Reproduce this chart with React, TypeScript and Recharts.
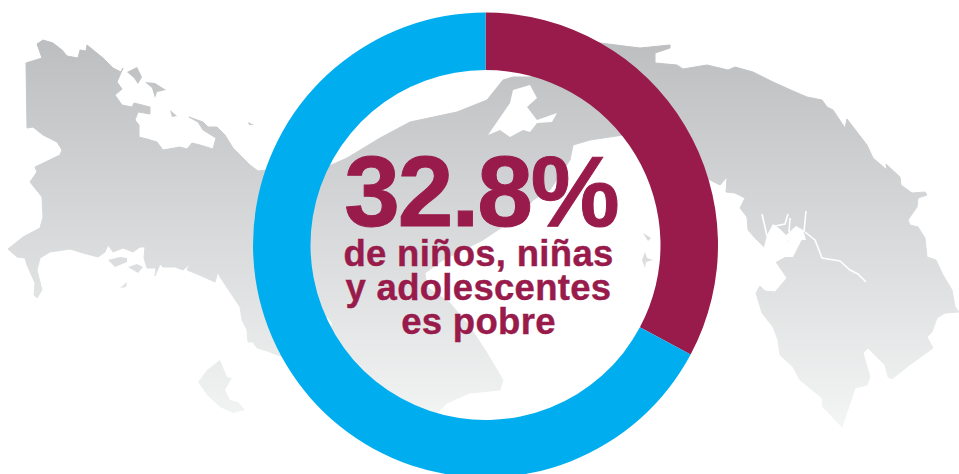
import React from "react";
import { PieChart, Pie, Cell } from "recharts";

const sliceNames = ["Pobre", "No pobre"];
const sliceValues = [32.8, 67.2];
const sliceColors = ["#981B4B", "#00AEEF"];

const headline = "32.8%";
const captionLines = ["de niños, niñas", "y adolescentes", "es pobre"];

const pieData = sliceNames.map((name, i) => ({ name, value: sliceValues[i] }));

// background map of Panama, traced by hand
const landPath =
  "M37 44 L43 40 L53 43 L62 50 L67 56 L78 58 L80 50 L86 51 L87 45 L103 58 L113 68 L121 72 L123 68 L117 82 L122 89 L115 95 L122 105 L132 107 L134 103 L150 107 L150 114 L138 112 L135 120 L139 125 L139 137 L147 139 L157 142 L163 150 L180 147 L187 149 L192 143 L200 145 L213 149 L216 138 L203 130 L198 122 L189 117 L203 122 L208 127 L217 127 L225 135 L233 148 L250 165 L258 171 L267 170 " +
  "L327 167 L347 158 L380 138 L410 122 L457 112 L487 100 L503 80 L513 77 L530 77 L570 50 L600 43 L640 48 L670 45 L670 48 L655 53 L655 63 L677 65 L683 69 L707 65 L728 70 L735 67 L753 72 L773 82 L793 91 L807 97 L822 100 L827 107 L833 110 L845 128 L847 119 L857 132 L867 145 L873 158 L887 170 L886 164 L900 177 L901 185 L912 193 L925 192 L927 195 L918 198 L917 207 L908 220 L910 225 L918 227 L925 238 L927 257 L936 260 L943 275 L952 290 L955 307 L959 312 " +
  "L945 313 L937 318 L932 332 L927 337 L933 348 L907 367 L892 379 L888 377 L885 365 L868 348 L863 353 L870 377 L867 385 L855 388 L842 427 L823 407 L822 398 L800 380 L793 367 L780 355 L778 340 L773 327 L762 313 L756 293 L760 286 L765 291 L775 292 L787 278 L776 262 L785 257 L793 257 L803 237 L796 236 L785 243 L776 250 L764 247 L755 238 L748 230 L747 217 L740 208 L745 198 L735 193 L726 192 L727 177 L720 185 L710 180 " +
  "L660 140 L623 135 L590 140 L573 145 L570 160 L550 190 L533 200 L523 213 L483 240 L443 260 L425 273 L427 287 L450 303 L470 327 L487 353 L503 380 L500 390 L470 393 L447 403 L430 420 L350 385 L283 357 " +
  "L267 351 L257 348 L253 342 L248 342 L247 330 L242 320 L240 307 L230 292 L220 277 L218 272 L215 282 L197 274 L187 270 L190 264 L183 270 L175 267 L163 267 L160 264 L155 276 L156 268 L147 268 L144 258 L145 247 L140 247 L133 252 L123 248 L113 252 L108 245 L105 252 L98 257 L83 253 L70 249 L50 252 L40 258 L37 270 L42 290 L37 298 L34 295 L35 283 L27 265 L25 258 L17 257 L8 249 L23 237 L40 228 L43 217 L42 197 L30 182 L37 172 L35 167 L60 155 L62 150 L57 142 L43 135 L33 127 L27 128 L26 63 L42 58 Z";

const islandPaths = [
  "M127 72 L137 67 L142 77 L138 84 L134 78 Z",
  "M145 82 L155 83 L166 90 L157 92 L155 98 L152 88 Z",
  "M170 110 L177 116 L172 117 Z",
  "M248 122 L254 125 L249 125 Z",
  "M108 260 L120 257 L127 258 L127 262 L115 267 Z",
  "M128 267 L137 264 L143 267 L138 273 Z",
  "M127 282 L120 288 L126 287 Z",
  "M220 360 L227 377 L232 378 L225 390 L230 400 L238 402 L245 410 L233 413 L220 407 L207 395 L198 382 L207 370 Z",
  "M643 233 L651 238 L648 241 Z",
  "M645 252 L647 258 L653 260 L646 262 L645 268 L642 260 Z",
];

const inletPaths = [
  "M488 135 L510 103 L513 90 L530 85 L537 98 L527 107 L537 120 L557 113 L552 122 L537 123 L530 132 L523 130 L510 137 L500 130 Z",
  "M327 317 L332 323 L330 332 L322 325 Z",
  "M550 197 L570 188 L550 201 Z",
  "M764 247 L767 235 L773 224 L780 229 L786 235 L796 226 L803 230 L806 240 L796 240 L788 241 L785 245 L790 245 L803 237 L793 257 L785 257 L776 262 Z",
];

const riverPaths = [
  "M767 236 L762 214",
  "M775 226 L785 224 L788 214",
  "M789 232 L790 218",
  "M804 232 L806 211",
  "M805 232 L815 240 L822 258 L840 261 L850 270 L858 274 L866 282",
];

const App: React.FC = () => {
  return (
    <div
      style={{
        position: "absolute",
        left: 0,
        top: 0,
        width: 959,
        height: 474,
        overflow: "hidden",
        background: "#fff",
      }}
    >
      <svg
        width={959}
        height={474}
        style={{ position: "absolute", left: 0, top: 0 }}
      >
        <defs>
          <linearGradient
            id="mapShade"
            gradientUnits="userSpaceOnUse"
            x1="0"
            y1="40"
            x2="0"
            y2="430"
          >
            <stop offset="0%" stopColor="#BCBEC0" />
            <stop offset="100%" stopColor="#F4F5F5" />
          </linearGradient>
        </defs>
        <path
          d={landPath}
          fill="url(#mapShade)"
          stroke="url(#mapShade)"
          strokeWidth={1}
          strokeLinejoin="round"
        />
        {islandPaths.map((d) => (
          <path key={d} d={d} fill="url(#mapShade)" />
        ))}
        {inletPaths.map((d) => (
          <path key={d} d={d} fill="#fff" />
        ))}
        {riverPaths.map((d) => (
          <path key={d} d={d} fill="none" stroke="#fff" strokeWidth={1.6} />
        ))}
      </svg>

      <div style={{ position: "absolute", left: 0, top: 0 }}>
        <PieChart
          width={959}
          height={474}
          margin={{ top: 0, right: 0, bottom: 0, left: 0 }}
        >
          <Pie
            data={pieData}
            dataKey="value"
            nameKey="name"
            cx={485.5}
            cy={245}
            innerRadius={175}
            outerRadius={232.5}
            startAngle={90}
            endAngle={-270}
            stroke="none"
            isAnimationActive={false}
          >
            {pieData.map((d, i) => (
              <Cell key={d.name} fill={sliceColors[i]} />
            ))}
          </Pie>
        </PieChart>
      </div>

      <svg
        width={959}
        height={474}
        style={{ position: "absolute", left: 0, top: 0 }}
      >
        <text
          x={481}
          y={226}
          textAnchor="middle"
          fontFamily="Liberation Sans"
          fontWeight="bold"
          fontSize={100}
          letterSpacing={-2}
          stroke={sliceColors[0]}
          strokeWidth={1}
          fill={sliceColors[0]}
        >
          {headline}
        </text>
        {captionLines.map((line, i) => (
          <text
            key={line}
            x={478.5}
            y={266 + i * 34}
            textAnchor="middle"
            fontFamily="Liberation Sans"
            fontWeight="bold"
            fontSize={36.5}
            letterSpacing={0.3}
            stroke={sliceColors[0]}
            strokeWidth={0.4}
            fill={sliceColors[0]}
          >
            {line}
          </text>
        ))}
      </svg>
    </div>
  );
};

export default App;
